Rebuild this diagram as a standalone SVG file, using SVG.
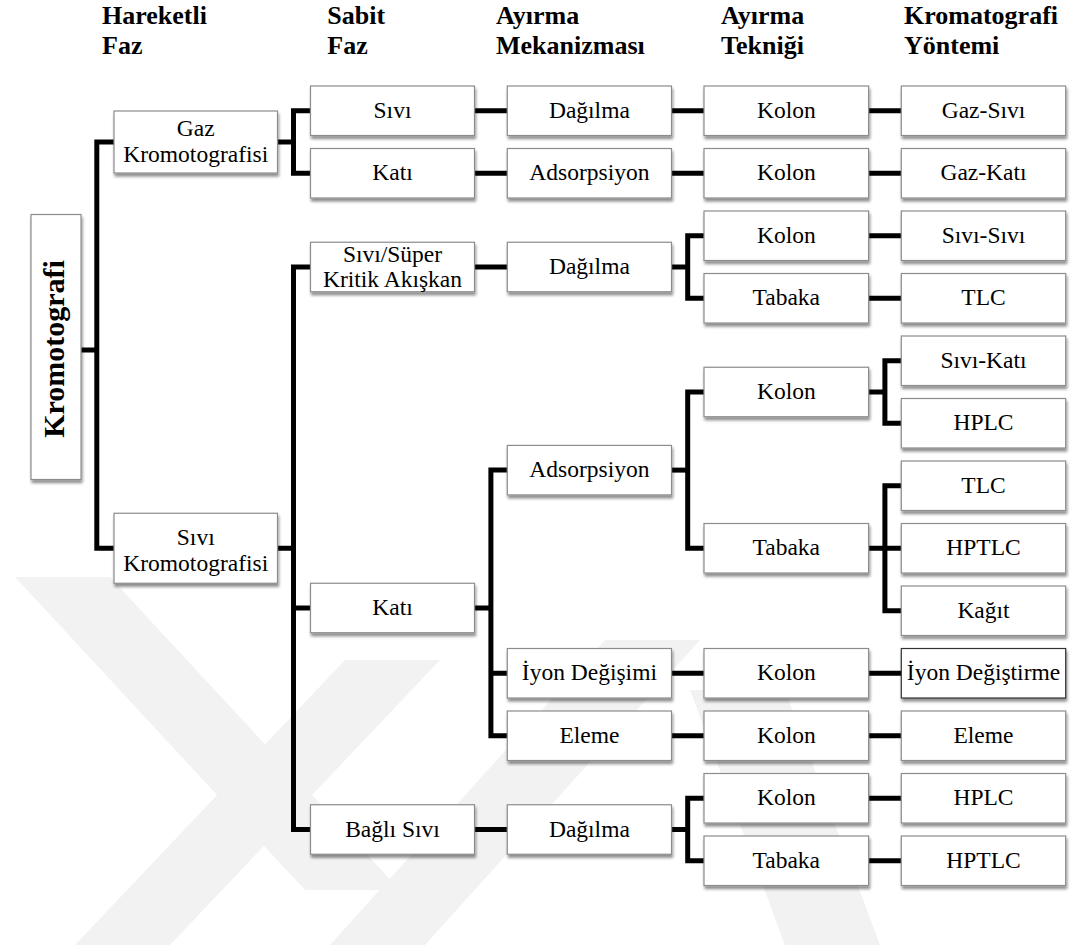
<svg xmlns="http://www.w3.org/2000/svg" width="1072" height="947" viewBox="0 0 1072 947">
<defs>
<filter id="sh" x="-5%" y="-10%" width="115%" height="130%">
<feGaussianBlur in="SourceAlpha" stdDeviation="1.4"/>
<feOffset dx="1" dy="2.5" result="o"/>
<feComponentTransfer><feFuncA type="linear" slope="0.45"/></feComponentTransfer>
<feMerge><feMergeNode/><feMergeNode in="SourceGraphic"/></feMerge>
</filter>
<style>
.b{fill:#fff;stroke:#8c8c8c;stroke-width:1.2;filter:url(#sh)}
.t{font-family:"Liberation Serif","Times New Roman",serif;font-size:23.5px;text-anchor:middle;fill:#000}
.h{font-family:"Liberation Serif","Times New Roman",serif;font-size:26px;font-weight:bold;fill:#000}
.c{fill:none;stroke:#000;stroke-width:5;stroke-linejoin:miter;stroke-linecap:butt}
.w{fill:#f2f2f2}
</style>
</defs>
<rect width="1072" height="947" fill="#fff"/>

<g id="watermark">
<polygon class="w" points="15,577 110,577 400,890 305,890"/>
<polygon class="w" points="75,945 170,945 440,660 345,660"/>
<polygon class="w" points="330,945 425,945 700,640 605,640"/>
<polygon class="w" points="690,690 785,690 880,945 785,945"/>
</g>

<g id="headers">
<text class="h" x="102" y="24">Hareketli</text><text class="h" x="102" y="53.5">Faz</text>
<text class="h" x="327.3" y="24">Sabit</text><text class="h" x="327.3" y="53.5">Faz</text>
<text class="h" x="496" y="24">Ayırma</text><text class="h" x="496" y="53.5">Mekanizması</text>
<text class="h" x="721" y="24">Ayırma</text><text class="h" x="721" y="53.5">Tekniği</text>
<text class="h" x="904" y="24">Kromatografi</text><text class="h" x="904" y="53.5">Yöntemi</text>
</g>

<g id="connectors">
<path class="c" d="M81,350 H96.8"/>
<path class="c" d="M114,142 H96.8 V548.25 H114"/>
<path class="c" d="M277.5,142 H293.5"/>
<path class="c" d="M310.5,110.75 H293.5 V173.25 H310.5"/>
<path class="c" d="M277.5,548.25 H293.5"/>
<path class="c" d="M310.5,267 H293.5 V829.5 H310.5"/>
<path class="c" d="M293.5,608 H310.5"/>
<path class="c" d="M474.5,110.75 H507.3"/>
<path class="c" d="M474.5,173.25 H507.3"/>
<path class="c" d="M474.5,267 H507.3"/>
<path class="c" d="M474.5,608 H490.9"/>
<path class="c" d="M507.3,470.1 H490.9 V735.75 H507.3"/>
<path class="c" d="M490.9,673.25 H507.3"/>
<path class="c" d="M474.5,829.5 H507.3"/>
<path class="c" d="M671.5,110.75 H704"/>
<path class="c" d="M671.5,173.25 H704"/>
<path class="c" d="M671.5,267 H687.7"/>
<path class="c" d="M704,235.75 H687.7 V298.25 H704"/>
<path class="c" d="M671.5,470.1 H687.7"/>
<path class="c" d="M704,392 H687.7 V548.25 H704"/>
<path class="c" d="M671.5,673.25 H704"/>
<path class="c" d="M671.5,735.75 H704"/>
<path class="c" d="M671.5,829.5 H687.7"/>
<path class="c" d="M704,798.25 H687.7 V860.75 H704"/>
<path class="c" d="M868.6,110.75 H901.3"/>
<path class="c" d="M868.6,173.25 H901.3"/>
<path class="c" d="M868.6,235.75 H901.3"/>
<path class="c" d="M868.6,298.25 H901.3"/>
<path class="c" d="M868.6,392 H884.9"/>
<path class="c" d="M901.3,360.75 H884.9 V423.25 H901.3"/>
<path class="c" d="M868.6,548.25 H901.3"/>
<path class="c" d="M901.3,485.75 H884.9 V610.75 H901.3"/>
<path class="c" d="M868.6,673.25 H901.3"/>
<path class="c" d="M868.6,735.75 H901.3"/>
<path class="c" d="M868.6,798.25 H901.3"/>
<path class="c" d="M868.6,860.75 H901.3"/>
</g>

<g id="n-kromotografi"><rect class="b" x="31" y="214.5" width="50" height="265"/>
<text class="t" transform="translate(64,349) rotate(-90)" style="font-size:30px;font-weight:bold">Kromotografi</text></g>

<g id="n-gaz"><rect class="b" x="114" y="111" width="163.5" height="62"/>
<text class="t" x="195.75" y="136">Gaz</text><text class="t" x="195.75" y="161.5">Kromotografisi</text></g>
<g id="n-sivikrom"><rect class="b" x="114" y="513.25" width="163.5" height="70"/>
<text class="t" x="195.75" y="545">Sıvı</text><text class="t" x="195.75" y="570.5">Kromotografisi</text></g>

<g id="s-sivi"><rect class="b" x="310.5" y="86" width="164" height="49.5"/><text class="t" x="392.5" y="117.75">Sıvı</text></g>
<g id="s-kati1"><rect class="b" x="310.5" y="148.5" width="164" height="49.5"/><text class="t" x="392.5" y="180.25">Katı</text></g>
<g id="s-superkritik"><rect class="b" x="310.5" y="242.25" width="164" height="49.5"/><text class="t" x="392.5" y="261.75">Sıvı/Süper</text><text class="t" x="392.5" y="287.25">Kritik Akışkan</text></g>
<g id="s-kati2"><rect class="b" x="310.5" y="583.25" width="164" height="49.5"/><text class="t" x="392.5" y="615">Katı</text></g>
<g id="s-bagli"><rect class="b" x="310.5" y="804.75" width="164" height="49.5"/><text class="t" x="392.5" y="836.5">Bağlı Sıvı</text></g>

<g id="m-dag1"><rect class="b" x="507.3" y="86" width="164.2" height="49.5"/><text class="t" x="589.4" y="117.75">Dağılma</text></g>
<g id="m-ads1"><rect class="b" x="507.3" y="148.5" width="164.2" height="49.5"/><text class="t" x="589.4" y="180.25">Adsorpsiyon</text></g>
<g id="m-dag2"><rect class="b" x="507.3" y="242.25" width="164.2" height="49.5"/><text class="t" x="589.4" y="274">Dağılma</text></g>
<g id="m-ads2"><rect class="b" x="507.3" y="445.4" width="164.2" height="49.5"/><text class="t" x="589.4" y="477.1">Adsorpsiyon</text></g>
<g id="m-iyon"><rect class="b" x="507.3" y="648.5" width="164.2" height="49.5"/><text class="t" x="589.4" y="680.25">İyon Değişimi</text></g>
<g id="m-eleme"><rect class="b" x="507.3" y="711" width="164.2" height="49.5"/><text class="t" x="589.4" y="742.75">Eleme</text></g>
<g id="m-dag3"><rect class="b" x="507.3" y="804.75" width="164.2" height="49.5"/><text class="t" x="589.4" y="836.5">Dağılma</text></g>

<g id="t-kolon1"><rect class="b" x="704" y="86" width="164.6" height="49.5"/><text class="t" x="786.3" y="117.75">Kolon</text></g>
<g id="t-kolon2"><rect class="b" x="704" y="148.5" width="164.6" height="49.5"/><text class="t" x="786.3" y="180.25">Kolon</text></g>
<g id="t-kolon3"><rect class="b" x="704" y="211" width="164.6" height="49.5"/><text class="t" x="786.3" y="242.75">Kolon</text></g>
<g id="t-tabaka1"><rect class="b" x="704" y="273.5" width="164.6" height="49.5"/><text class="t" x="786.3" y="305.25">Tabaka</text></g>
<g id="t-kolon4"><rect class="b" x="704" y="367.25" width="164.6" height="49.5"/><text class="t" x="786.3" y="399">Kolon</text></g>
<g id="t-tabaka2"><rect class="b" x="704" y="523.5" width="164.6" height="49.5"/><text class="t" x="786.3" y="555.25">Tabaka</text></g>
<g id="t-kolon5"><rect class="b" x="704" y="648.5" width="164.6" height="49.5"/><text class="t" x="786.3" y="680.25">Kolon</text></g>
<g id="t-kolon6"><rect class="b" x="704" y="711" width="164.6" height="49.5"/><text class="t" x="786.3" y="742.75">Kolon</text></g>
<g id="t-kolon7"><rect class="b" x="704" y="773.5" width="164.6" height="49.5"/><text class="t" x="786.3" y="805.25">Kolon</text></g>
<g id="t-tabaka3"><rect class="b" x="704" y="836" width="164.6" height="49.5"/><text class="t" x="786.3" y="867.75">Tabaka</text></g>

<g id="k-gazsivi"><rect class="b" x="901.3" y="86" width="164.4" height="49.5"/><text class="t" x="983.5" y="117.75">Gaz-Sıvı</text></g>
<g id="k-gazkati"><rect class="b" x="901.3" y="148.5" width="164.4" height="49.5"/><text class="t" x="983.5" y="180.25">Gaz-Katı</text></g>
<g id="k-sivisivi"><rect class="b" x="901.3" y="211" width="164.4" height="49.5"/><text class="t" x="983.5" y="242.75">Sıvı-Sıvı</text></g>
<g id="k-tlc1"><rect class="b" x="901.3" y="273.5" width="164.4" height="49.5"/><text class="t" x="983.5" y="305.25">TLC</text></g>
<g id="k-sivikati"><rect class="b" x="901.3" y="336" width="164.4" height="49.5"/><text class="t" x="983.5" y="367.75">Sıvı-Katı</text></g>
<g id="k-hplc1"><rect class="b" x="901.3" y="398.5" width="164.4" height="49.5"/><text class="t" x="983.5" y="430.25">HPLC</text></g>
<g id="k-tlc2"><rect class="b" x="901.3" y="461" width="164.4" height="49.5"/><text class="t" x="983.5" y="492.75">TLC</text></g>
<g id="k-hptlc1"><rect class="b" x="901.3" y="523.5" width="164.4" height="49.5"/><text class="t" x="983.5" y="555.25">HPTLC</text></g>
<g id="k-kagit"><rect class="b" x="901.3" y="586" width="164.4" height="49.5"/><text class="t" x="983.5" y="617.75">Kağıt</text></g>
<g id="k-iyon"><rect class="b" x="901.3" y="648.5" width="164.4" height="49.5" style="stroke:#333"/><text class="t" x="983.5" y="680.25">İyon Değiştirme</text></g>
<g id="k-eleme"><rect class="b" x="901.3" y="711" width="164.4" height="49.5"/><text class="t" x="983.5" y="742.75">Eleme</text></g>
<g id="k-hplc2"><rect class="b" x="901.3" y="773.5" width="164.4" height="49.5"/><text class="t" x="983.5" y="805.25">HPLC</text></g>
<g id="k-hptlc2"><rect class="b" x="901.3" y="836" width="164.4" height="49.5"/><text class="t" x="983.5" y="867.75">HPTLC</text></g>
</svg>
